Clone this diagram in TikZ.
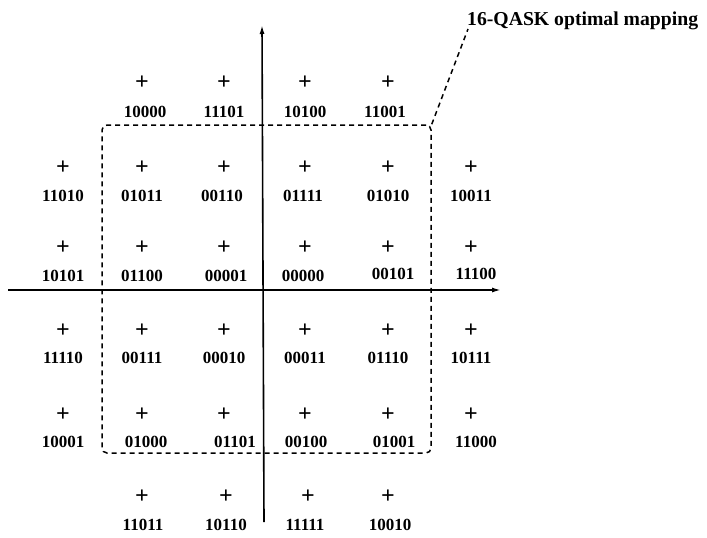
\documentclass[tikz,border=0pt]{standalone}
\usepackage{fontspec}
\setmainfont{Liberation Serif}
\usetikzlibrary{arrows.meta}

\tikzset{
  pt/.style={inner sep=0pt, font=\bfseries\fontsize{24}{24}\selectfont},
  bits/.style={inner sep=0pt, font=\bfseries\fontsize{17}{17}\selectfont},
  axis/.style={line width=1.6pt, -{Latex[length=9pt,width=5pt]}},
  frame/.style={draw, dashed, dash pattern=on 5pt off 4pt, line width=1.5pt, rounded corners=5pt}
}

\begin{document}
\begin{tikzpicture}[x=1pt,y=-1pt]
\useasboundingbox (0,0) rectangle (707,538);

% axes
\coordinate (xl) at (8,290);
\coordinate (xr) at (501,290);
\coordinate (yb) at (264,522);
\coordinate (yt) at (262,25);
\draw[axis] (xl) -- (xr);
\draw[axis] (yb) -- (yt);

% inner 16 points
\node[frame, minimum width=329pt, minimum height=328pt] (box) at (266.5,289) {};

% first row
\node[pt] (a2) at (142,83) {+};  \node[bits] at (145,112) {10000};
\node[pt] (a3) at (224,83) {+};  \node[bits] at (224,112) {11101};
\node[pt] (a4) at (305,83) {+};  \node[bits] at (305,112) {10100};
\node[pt] (a5) at (388,83) {+};  \node[bits] at (385,112) {11001};

% second row
\node[pt] (b1) at (63,168) {+};  \node[bits] at (63,196) {11010};
\node[pt] (b2) at (142,168) {+}; \node[bits] at (142,196) {01011};
\node[pt] (b3) at (224,168) {+}; \node[bits] at (222,196) {00110};
\node[pt] (b4) at (305,168) {+}; \node[bits] at (303,196) {01111};
\node[pt] (b5) at (388,168) {+}; \node[bits] at (388,196) {01010};
\node[pt] (b6) at (471,168) {+}; \node[bits] at (471,196) {10011};

% third row
\node[pt] (c1) at (63,248) {+};  \node[bits] at (63,276) {10101};
\node[pt] (c2) at (142,248) {+}; \node[bits] at (142,276) {01100};
\node[pt] (c3) at (224,248) {+}; \node[bits] at (226,276) {00001};
\node[pt] (c4) at (305,248) {+}; \node[bits] at (303,276) {00000};
\node[pt] (c5) at (388,248) {+}; \node[bits] at (393,274) {00101};
\node[pt] (c6) at (471,248) {+}; \node[bits] at (476,274) {11100};

% fourth row
\node[pt] (d1) at (63,331) {+};  \node[bits] at (63,358) {11110};
\node[pt] (d2) at (142,331) {+}; \node[bits] at (142,358) {00111};
\node[pt] (d3) at (224,331) {+}; \node[bits] at (224,358) {00010};
\node[pt] (d4) at (305,331) {+}; \node[bits] at (305,358) {00011};
\node[pt] (d5) at (388,331) {+}; \node[bits] at (388,358) {01110};
\node[pt] (d6) at (471,331) {+}; \node[bits] at (471,358) {10111};

% fifth row
\node[pt] (e1) at (63,415) {+};  \node[bits] at (63,442) {10001};
\node[pt] (e2) at (142,415) {+}; \node[bits] at (146,442) {01000};
\node[pt] (e3) at (224,415) {+}; \node[bits] at (235,442) {01101};
\node[pt] (e4) at (305,415) {+}; \node[bits] at (306,442) {00100};
\node[pt] (e5) at (388,415) {+}; \node[bits] at (394,442) {01001};
\node[pt] (e6) at (471,415) {+}; \node[bits] at (476,442) {11000};

% last row
\node[pt] (f2) at (142,497) {+}; \node[bits] at (143,525) {11011};
\node[pt] (f3) at (226,497) {+}; \node[bits] at (226,525) {10110};
\node[pt] (f4) at (308,497) {+}; \node[bits] at (305,525) {11111};
\node[pt] (f5) at (388,497) {+}; \node[bits] at (390,525) {10010};

% caption with leader
\node[anchor=base west, inner sep=0pt, font=\bfseries\fontsize{19.7}{20}\selectfont] (title) at (467,25) {16-QASK optimal mapping};
\draw[dashed, dash pattern=on 5pt off 4pt, line width=1.5pt] (box.north east) -- ([xshift=1pt,yshift=-4pt]title.base west);
\end{tikzpicture}
\end{document}
